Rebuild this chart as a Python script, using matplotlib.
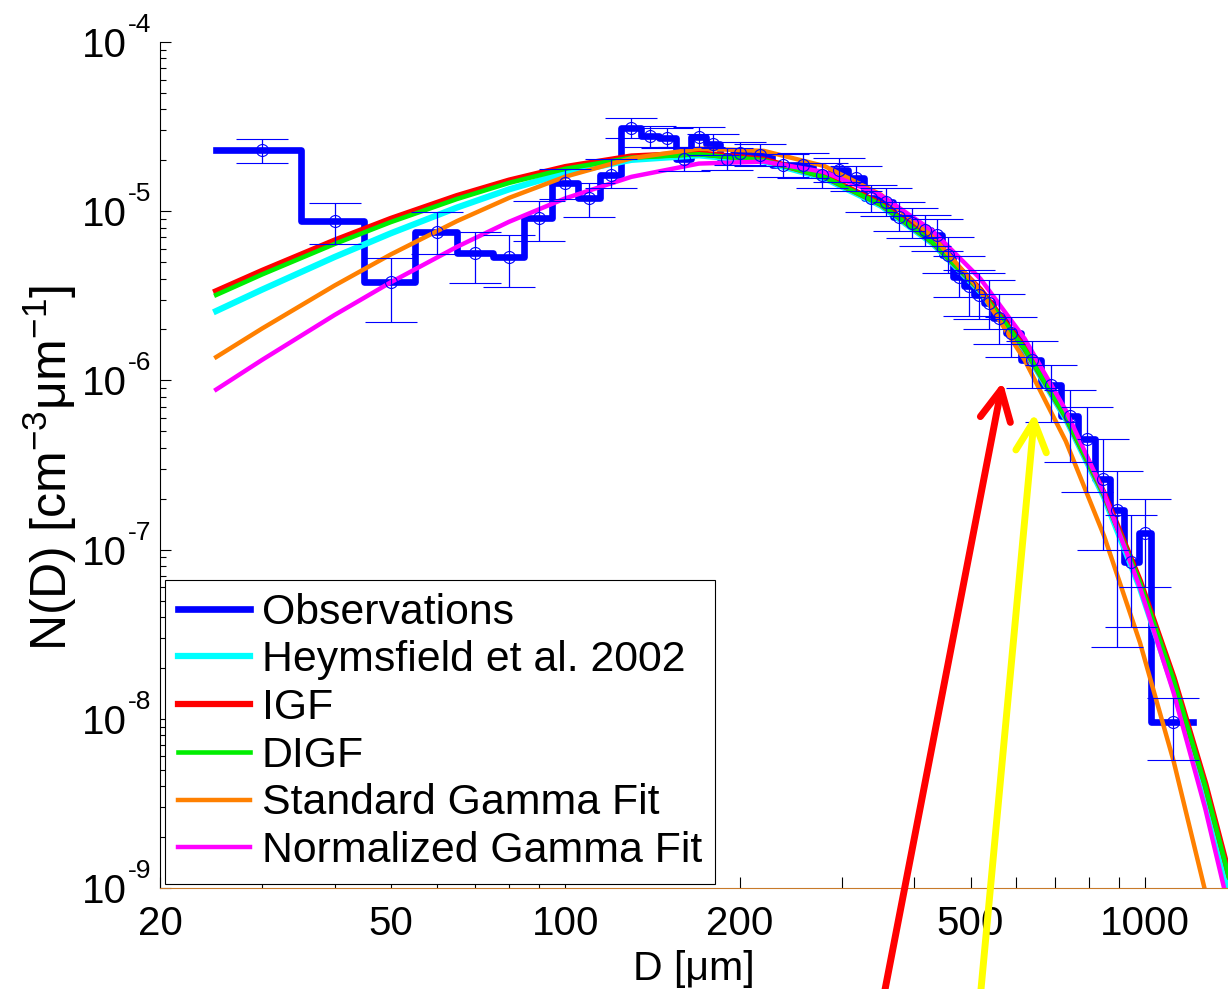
import matplotlib
matplotlib.use('Agg')
import matplotlib.pyplot as plt
from matplotlib.ticker import NullFormatter
from matplotlib.transforms import blended_transform_factory, offset_copy

plt.rcParams['font.family'] = ['Liberation Sans', 'DejaVu Sans']
plt.rcParams['mathtext.fontset'] = 'custom'
plt.rcParams['mathtext.rm'] = 'Liberation Sans'
plt.rcParams['mathtext.it'] = 'Liberation Sans:italic'
plt.rcParams['mathtext.default'] = 'regular'

# observed size distribution: bin centres, bin edges, N(D) and error range
d_obs = [30, 40, 50, 60, 70, 80, 90, 100, 110, 120,
         130, 140, 150, 160, 170, 180, 190, 200, 217, 237,
         257, 277, 297, 317, 337, 357, 377, 397, 417, 437,
         457, 477, 497, 517, 537, 560, 588, 637, 689, 741,
         793, 845, 895, 947, 1000, 1117]
edges = [25, 35, 45, 55, 65, 75, 85, 95, 105, 115, 125, 135, 145, 155, 165,
         175, 185, 195, 207, 227, 247, 267, 287, 307, 327, 347, 367, 387, 407,
         427, 447, 467, 487, 507, 527, 547, 575, 612, 662, 715, 767, 819, 870,
         921, 975, 1025, 1210]
n_obs = [2.30e-5, 8.75e-6, 3.82e-6, 7.53e-6, 5.64e-6, 5.34e-6, 9.08e-6, 1.46e-5, 1.19e-5, 1.64e-5,
         3.09e-5, 2.78e-5, 2.70e-5, 2.03e-5, 2.76e-5, 2.49e-5, 2.03e-5, 2.20e-5, 2.15e-5, 1.87e-5,
         1.87e-5, 1.64e-5, 1.75e-5, 1.57e-5, 1.19e-5, 1.14e-5, 9.28e-6, 8.48e-6, 7.7e-6, 7.23e-6,
         5.51e-6, 4.10e-6, 3.6e-6, 3.2e-6, 2.86e-6, 2.35e-6, 1.90e-6, 1.32e-6, 9.4e-7, 6.2e-7,
         4.5e-7, 2.6e-7, 1.72e-7, 8.5e-8, 1.25e-7, 9.6e-9]
n_lo = [1.93e-5, 6.40e-6, 2.21e-6, 5.58e-6, 3.78e-6, 3.56e-6, 6.70e-6, 1.18e-5, 9.2e-6, 1.38e-5,
        2.70e-5, 2.40e-5, 2.35e-5, 1.72e-5, 2.40e-5, 2.15e-5, 1.75e-5, 1.88e-5, 1.85e-5, 1.60e-5,
        1.58e-5, 1.38e-5, 1.48e-5, 1.32e-5, 9.9e-6, 9.4e-6, 7.6e-6, 6.9e-6, 6.2e-6, 5.8e-6,
        4.3e-6, 3.1e-6, 2.4e-6, 2.3e-6, 2.0e-6, 1.65e-6, 1.38e-6, 9.0e-7, 5.7e-7, 3.3e-7,
        2.2e-7, 1.0e-7, 2.65e-8, 3.5e-8, 6.0e-8, 5.7e-9]
n_hi = [2.67e-5, 1.12e-5, 5.28e-6, 9.9e-6, 7.57e-6, 7.23e-6, 1.15e-5, 1.77e-5, 1.47e-5, 2.03e-5,
        3.54e-5, 3.20e-5, 3.10e-5, 2.40e-5, 3.15e-5, 2.85e-5, 2.35e-5, 2.55e-5, 2.50e-5, 2.18e-5,
        2.20e-5, 1.93e-5, 2.06e-5, 1.86e-5, 1.43e-5, 1.37e-5, 1.13e-5, 1.04e-5, 9.5e-6, 9.0e-6,
        7.0e-6, 5.4e-6, 4.5e-6, 4.3e-6, 3.9e-6, 3.25e-6, 2.37e-6, 1.70e-6, 1.23e-6, 8.8e-7,
        7.0e-7, 4.5e-7, 2.9e-7, 1.6e-7, 2.0e-7, 1.32e-8]

# fitted distributions on a common diameter grid
d_fit = [25, 30, 40, 50, 65, 80, 100, 130, 170, 220, 280, 350, 430, 520,
         620, 730, 850, 980, 1120, 1270, 1420]
n_heymsfield = [2.57e-6, 3.44e-6, 5.36e-6, 7.40e-6, 1.050e-5, 1.346e-5, 1.682e-5,
                2.011e-5, 2.139e-5, 1.970e-5, 1.567e-5, 1.080e-5, 6.45e-6, 3.35e-6,
                1.516e-6, 5.93e-7, 2.035e-7, 5.93e-8, 1.520e-8, 3.44e-9, 7.58e-10]
n_igf = [3.365e-6, 4.436e-6, 6.70e-6, 9.00e-6, 1.228e-5, 1.517e-5, 1.823e-5,
         2.106e-5, 2.199e-5, 2.016e-5, 1.604e-5, 1.105e-5, 6.60e-6, 3.425e-6,
         1.551e-6, 6.14e-7, 2.131e-7, 6.50e-8, 1.745e-8, 4.13e-9, 9.54e-10]
n_digf = [3.20e-6, 4.23e-6, 6.40e-6, 8.62e-6, 1.18e-5, 1.47e-5, 1.78e-5,
          2.07e-5, 2.17e-5, 2.00e-5, 1.59e-5, 1.095e-5, 6.54e-6, 3.39e-6,
          1.535e-6, 6.06e-7, 2.10e-7, 6.38e-8, 1.70e-8, 4.0e-9, 9.2e-10]
n_gamma = [1.374e-6, 2.026e-6, 3.635e-6, 5.55e-6, 8.73e-6, 1.199e-5, 1.600e-5,
           2.055e-5, 2.342e-5, 2.272e-5, 1.847e-5, 1.254e-5, 7.12e-6, 3.398e-6,
           1.318e-6, 4.37e-7, 1.20e-7, 2.82e-8, 5.62e-9, 9.55e-10, 1.58e-10]
n_norm_gamma = [8.83e-7, 1.322e-6, 2.435e-6, 3.799e-6, 6.15e-6, 8.66e-6, 1.191e-5,
                1.596e-5, 1.912e-5, 1.965e-5, 1.704e-5, 1.244e-5, 7.66e-6, 3.986e-6,
                1.762e-6, 6.65e-7, 2.148e-7, 5.96e-8, 1.426e-8, 2.943e-9, 5.86e-10]

fig = plt.figure(figsize=(12.28, 9.89), dpi=100)
ax = fig.add_axes([160 / 1228, 101 / 989, 1068 / 1228, 846 / 989])
ax.set_xscale('log')
ax.set_yscale('log')

ax.step(edges, n_obs + [n_obs[-1]], where='post', color='blue', lw=4.8,
        label='Observations')
ax.plot(d_fit, n_heymsfield, color='cyan', lw=4.5, label='Heymsfield et al. 2002')
ax.plot(d_fit, n_igf, color='red', lw=4.5, label='IGF')
ax.plot(d_fit, n_digf, color='#00ee00', lw=3.3, label='DIGF')
ax.plot(d_fit, n_gamma, color='#ff8000', lw=3.2, label='Standard Gamma Fit')
ax.plot(d_fit, n_norm_gamma, color='magenta', lw=3.2, label='Normalized Gamma Fit')

yerr = [[n - lo for n, lo in zip(n_obs, n_lo)], [hi - n for n, hi in zip(n_obs, n_hi)]]
ax.errorbar(d_obs, n_obs, yerr=yerr, fmt='o', ms=8.6, mfc='none', mec='blue', mew=0.8,
            ecolor='blue', elinewidth=0.9, capsize=18.4, capthick=0.9, zorder=5)

ax.set_xlim(20, 1390)
ax.set_ylim(1e-9, 1e-4)

ax.spines['top'].set_visible(False)
ax.spines['right'].set_visible(False)
ax.spines['left'].set_linewidth(0.8)
ax.spines['bottom'].set_linewidth(0.8)
ax.spines['bottom'].set_color('#c87a2a')

ax.set_xticks([20, 50, 100, 200, 500, 1000])
ax.set_xticklabels(['20', '50', '100', '200', '500', '1000'])
ax.set_xticks([30, 40, 60, 70, 80, 90, 300, 400, 600, 700, 800, 900], minor=True)
ax.xaxis.set_minor_formatter(NullFormatter())
ax.tick_params(axis='x', which='both', direction='in', length=7.7, width=0.8,
               labelsize=29, pad=12, top=False)

ax.set_yticks([10.0 ** k for k in range(-9, -3)])
ax.set_yticks([m * 10.0 ** k for k in range(-9, -4) for m in range(2, 10)], minor=True)
ax.yaxis.set_major_formatter(NullFormatter())
ax.yaxis.set_minor_formatter(NullFormatter())
ax.tick_params(axis='y', which='major', direction='in', length=7.7, width=0.8, right=False)
ax.tick_params(axis='y', which='minor', direction='in', length=4.3, width=0.8, right=False)

# power-of-ten labels with a raised exponent
ytrans = blended_transform_factory(ax.transAxes, ax.transData)
base_tr = offset_copy(ytrans, fig=fig, x=-33, y=0, units='dots')
exp_tr = offset_copy(ytrans, fig=fig, x=-32, y=10, units='dots')
for k in range(-9, -3):
    ax.text(0, 10.0 ** k, '10', transform=base_tr, ha='right', va='center_baseline',
            fontsize=29)
    ax.text(0, 10.0 ** k, str(k), transform=exp_tr, ha='left', va='baseline',
            fontsize=19)

fig.text(50 / 1228, 1 - 468 / 989, r'N(D) [cm$^{-3}$μm$^{-1}$]', rotation=90,
         ha='center', va='center', fontsize=36)
fig.text(694 / 1228, 1 - 980 / 989, 'D [μm]', ha='center', va='baseline', fontsize=29.5)

leg = ax.legend(loc='lower left', bbox_to_anchor=(0.0047, 0.0047), borderaxespad=0,
                fontsize=30.8, handlelength=1.68, handletextpad=0.28, labelspacing=0.18,
                borderpad=0.3, fancybox=False, framealpha=1, edgecolor='black')
leg.get_frame().set_linewidth(0.8)

# arrows marking where the fits part from the observations
ax.annotate('', xy=(568, 9.8e-7), xycoords='data',
            xytext=(883 / 1228, -11 / 989), textcoords='figure fraction',
            arrowprops=dict(arrowstyle='->,head_length=22,head_width=11', color='red',
                            lw=5, shrinkA=0, shrinkB=0, mutation_scale=1,
                            capstyle='round', joinstyle='round'), zorder=10)
ax.annotate('', xy=(645, 6.4e-7), xycoords='data',
            xytext=(980 / 1228, -11 / 989), textcoords='figure fraction',
            arrowprops=dict(arrowstyle='->,head_length=22,head_width=11', color='yellow',
                            lw=5, shrinkA=0, shrinkB=0, mutation_scale=1,
                            capstyle='round', joinstyle='round'), zorder=10)

fig.savefig('out.png', dpi=100)
